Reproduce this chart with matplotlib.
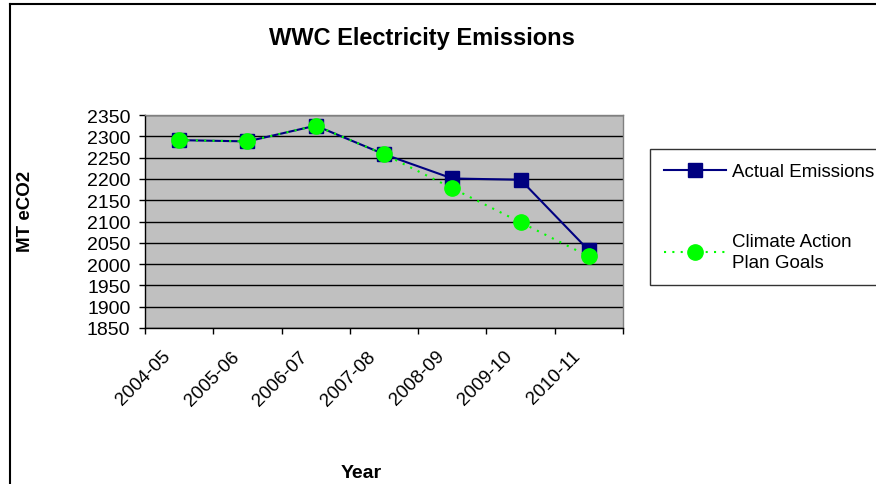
import matplotlib
matplotlib.use("Agg")
import matplotlib.pyplot as plt
import matplotlib.transforms as mtransforms
from matplotlib.lines import Line2D

years = ["2004-05", "2005-06", "2006-07", "2007-08", "2008-09", "2009-10", "2010-11"]
actual_emissions = [2291, 2288, 2325, 2258, 2201, 2198, 2032]
plan_goals = [2291, 2288, 2325, 2258, 2178, 2098, 2018]
y_ticks = list(range(1850, 2351, 50))

plt.rcParams["font.family"] = ["Liberation Sans", "DejaVu Sans"]

W, H = 876, 485
fig = plt.figure(figsize=(W / 100, H / 100), dpi=100)
ax = fig.add_axes([145 / W, 1 - 329 / H, (623 - 145) / W, (329 - 116) / H])

x = list(range(len(years)))
ax.set_facecolor("#C0C0C0")
ax.set_xlim(-0.5, len(years) - 0.5)
ax.set_ylim(y_ticks[0], y_ticks[-1])

ax.set_yticks(y_ticks)
ax.yaxis.grid(True, color="black", linewidth=1.0)
ax.set_axisbelow(True)

# category boundaries get tick marks, category centres get the labels
ax.set_xticks([i - 0.5 for i in range(len(years) + 1)])
ax.set_xticklabels([])
ax.set_xticks(x, minor=True)
ax.set_xticklabels(years, minor=True, rotation=45, ha="right", va="top",
                   rotation_mode="anchor", fontsize=13.5)
ax.tick_params(axis="x", which="minor", length=0, pad=6)
ax.tick_params(axis="x", which="major", length=4, width=1, direction="out")
ax.tick_params(axis="y", length=4.5, width=1, direction="out", labelsize=14, pad=6)

shift = mtransforms.ScaledTranslation(-17 / 100, -11 / 100, fig.dpi_scale_trans)
for lbl in ax.get_xticklabels(minor=True):
    lbl.set_transform(lbl.get_transform() + shift)

for s in ("top", "right"):
    ax.spines[s].set_color("#808080")
    ax.spines[s].set_linewidth(1.0)
for s in ("left", "bottom"):
    ax.spines[s].set_color("black")
    ax.spines[s].set_linewidth(1.0)

l1, = ax.plot(x, actual_emissions, color="#000080", linewidth=1.5, marker="s",
              markersize=10, markerfacecolor="#000080", markeredgecolor="#000080",
              label="Actual Emissions", zorder=3)
l2, = ax.plot(x, plan_goals, color="#00FF00", linewidth=1.5, linestyle=(0, (1, 3)),
              marker="o", markersize=11, markerfacecolor="#00FF00",
              markeredgecolor="#00FF00", label="Climate Action\nPlan Goals", zorder=4)

fig.text(422 / W, 1 - 39 / H, "WWC Electricity Emissions", ha="center", va="center",
         fontsize=17, fontweight="bold")
fig.text(361 / W, 1 - 474 / H, "Year", ha="center", va="center",
         fontsize=14, fontweight="bold")
fig.text(26 / W, 1 - 211 / H, "MT eCO2", ha="center", va="center",
         rotation=90, fontsize=13.5, fontweight="bold")

leg = fig.legend(handles=[l1, l2], loc="upper left",
                 bbox_to_anchor=(650 / W, 1 - 150 / H), fontsize=13.5,
                 frameon=True, fancybox=False, edgecolor="black",
                 handlelength=3.3, handletextpad=0.35, labelspacing=2.8,
                 borderpad=0.75, borderaxespad=0)
leg.get_frame().set_linewidth(1.0)
for t in leg.get_texts():
    t.set_linespacing(1.3)

# outer chart border
fig.add_artist(Line2D([9.5 / W, 9.5 / W], [0, 1 - 5 / H], color="black",
                      linewidth=1.5, transform=fig.transFigure))
fig.add_artist(Line2D([9.5 / W, 1], [1 - 5 / H, 1 - 5 / H], color="black",
                      linewidth=1.5, transform=fig.transFigure))

fig.savefig("out.png", dpi=100, facecolor="white")
